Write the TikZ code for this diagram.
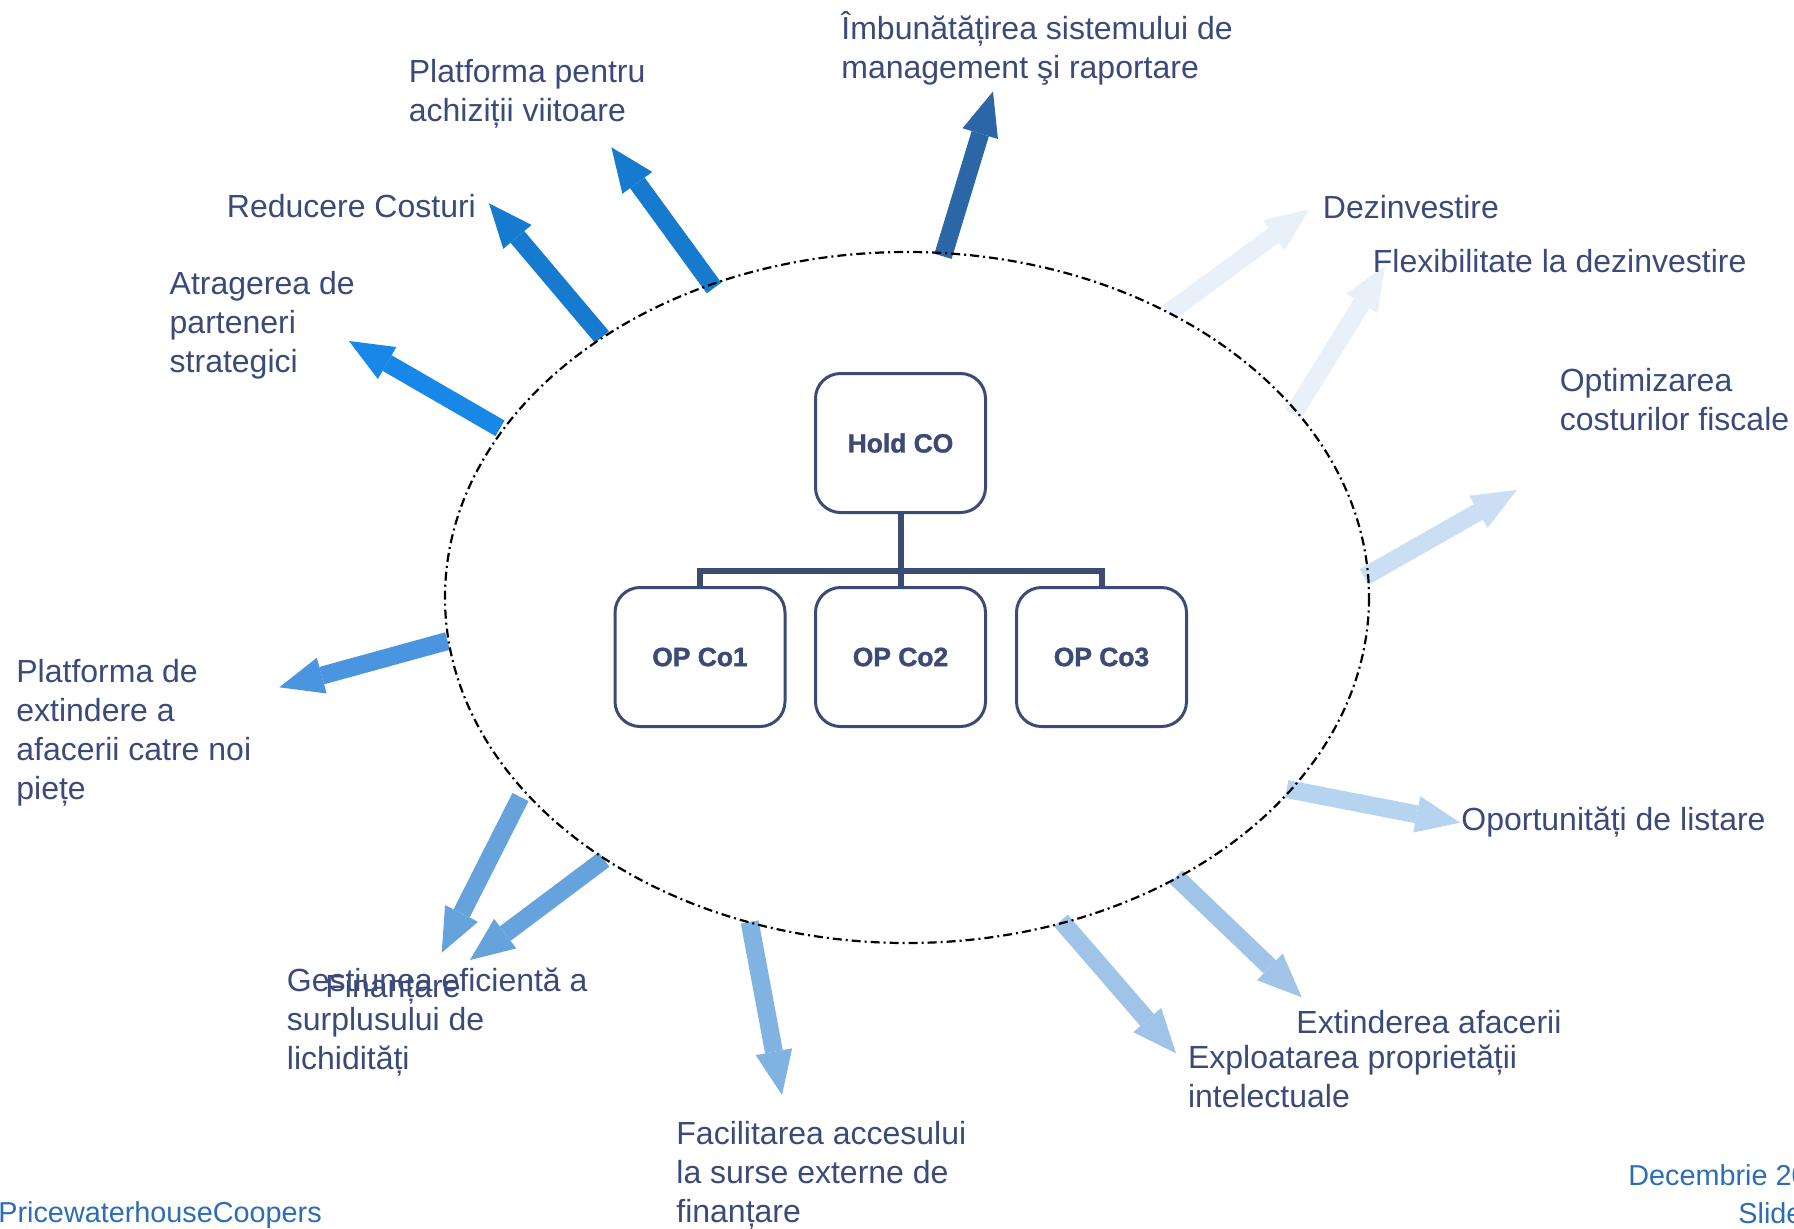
\documentclass[tikz,border=0pt]{standalone}
\usepackage{fontspec}
\setmainfont{Liberation Sans}
\newfontfamily\boxfont{Liberation Sans Bold}[FakeBold=1.5]
\usetikzlibrary{arrows.meta}

\definecolor{txtblue}{RGB}{59,74,120}
\definecolor{boxblue}{RGB}{60,74,118}
\definecolor{pwcblue}{RGB}{45,109,181}
\definecolor{c1}{RGB}{43,102,167}
\definecolor{c2}{RGB}{22,122,207}
\definecolor{c3}{RGB}{24,136,232}
\definecolor{c4}{RGB}{74,148,224}
\definecolor{c5}{RGB}{102,163,220}
\definecolor{c6}{RGB}{128,178,226}
\definecolor{c7}{RGB}{160,196,232}
\definecolor{c8}{RGB}{182,211,240}
\definecolor{c9}{RGB}{202,223,243}
\definecolor{c10}{RGB}{232,241,250}

\tikzset{
  lbl/.style={anchor=base west, align=left, inner sep=0pt, text=txtblue,
    font=\fontsize{16}{19.5}\selectfont},
  foot/.style={anchor=base west, inner sep=0pt, text=pwcblue,
    font=\fontsize{14.4}{17}\selectfont},
  blk/.style={line width=9pt,
    -{Triangle[width=18.5pt,length=22pt,line width=0pt]}},
  cobox/.style={draw=boxblue, line width=1.5pt, rounded corners=12.5pt,
    minimum width=85pt, minimum height=69.5pt, inner sep=0pt, text=boxblue,
    font=\fontsize{13.2}{16}\boxfont},
  orgline/.style={draw=boxblue, line width=3pt, line join=miter},
  ell/.style={line width=1.1pt, dash pattern=on 4.5pt off 2pt on 1pt off 2pt}
}

\begin{document}
\begin{tikzpicture}[x=0.5pt,y=-0.5pt]
  \useasboundingbox (0,0) rectangle (1794,1228);

  % arrow ends
  \coordinate (t1) at (943,256.3);   \coordinate (h1) at (993,91.5);
  \coordinate (t2) at (714,288);     \coordinate (h2) at (611.4,147.3);
  \coordinate (t3) at (602,337);     \coordinate (h3) at (489,203.3);
  \coordinate (t4) at (500,428.3);   \coordinate (h4) at (349,341);
  \coordinate (t5) at (447.5,641);   \coordinate (h5) at (279.3,687.3);
  \coordinate (t6) at (520.5,797);   \coordinate (h6) at (441.7,952.7);
  \coordinate (t7) at (604,859.5);   \coordinate (h7) at (470,960);
  \coordinate (t8) at (749.7,922);   \coordinate (h8) at (782,1095);
  \coordinate (t9) at (1061,920.5);  \coordinate (h9) at (1176,1053.3);
  \coordinate (t10) at (1176,877);   \coordinate (h10) at (1301.7,997.3);
  \coordinate (t11) at (1286.7,789); \coordinate (h11) at (1460,822.7);
  \coordinate (t12) at (1364,577);   \coordinate (h12) at (1516.7,490);
  \coordinate (t13) at (1293,414.7); \coordinate (h13) at (1385,266);
  \coordinate (t14) at (1168.3,312.7); \coordinate (h14) at (1309.3,209.3);

  \draw[blk, c1] (t1) -- (h1);
  \draw[blk, c2] (t2) -- (h2);
  \draw[blk, c2] (t3) -- (h3);
  \draw[blk, c3] (t4) -- (h4);
  \draw[blk, c4] (t5) -- (h5);
  \draw[blk, c5] (t6) -- (h6);
  \draw[blk, c5] (t7) -- (h7);
  \draw[blk, c6] (t8) -- (h8);
  \draw[blk, c7] (t9) -- (h9);
  \draw[blk, c7] (t10) -- (h10);
  \draw[blk, c8] (t11) -- (h11);
  \draw[blk, c9] (t12) -- (h12);
  \draw[blk, c10] (t13) -- (h13);
  \draw[blk, c10] (t14) -- (h14);

  % dashed ring
  \draw[ell] (907,597.5) ellipse [x radius=462, y radius=345.5];

  % holding structure
  \node[cobox] (hold) at (900.5,443) {Hold CO};
  \node[cobox] (op1) at (700,657) {OP Co1};
  \node[cobox] (op2) at (900.5,657) {OP Co2};
  \node[cobox] (op3) at (1101.5,657) {OP Co3};
  \coordinate (bar) at (900.5,570.5);
  \draw[orgline] (hold.south) -- (op2.north);
  \draw[orgline] (op1.north) |- (bar) -| (op3.north);

  % labels (base = last line)
  \node[lbl] (l1) at (841,78) {Îmbunătățirea sistemului de\\management şi raportare};
  \node[lbl] (l2) at (408.5,121.4) {Platforma pentru\\achiziții viitoare};
  \node[lbl] (l3) at (226.5,217.4) {Reducere Costuri};
  \node[lbl] (l4) at (169.3,372) {Atragerea de\\parteneri\\strategici};
  \node[lbl] (l5) at (16,799) {Platforma de\\extindere a\\afacerii catre noi\\piețe};
  \node[lbl] (l6) at (286.5,1069.5) {Gestiunea eficientă a\\surplusului de\\lichidități};
  \node[lbl] (l7) at (325,997) {Finanțare};
  \node[lbl] (l8) at (676,1222) {Facilitarea accesului\\la surse externe de\\finanțare};
  \node[lbl] (l9) at (1187.6,1107.6) {Exploatarea proprietății\\intelectuale};
  \node[lbl] (l10) at (1296,1033) {Extinderea afacerii};
  \node[lbl] (l11) at (1461,830.6) {Oportunități de listare};
  \node[lbl] (l12) at (1559.4,430) {Optimizarea\\costurilor fiscale};
  \node[lbl] (l13) at (1372.5,272.5) {Flexibilitate la dezinvestire};
  \node[lbl] (l14) at (1322.5,218) {Dezinvestire};

  % footer
  \node[foot] (pwc) at (-2,1222.7) {PricewaterhouseCoopers};
  \node[foot] (date) at (1628,1185) {Decembrie 20};
  \node[foot] (slide) at (1738,1223) {Slide};
\end{tikzpicture}
\end{document}
